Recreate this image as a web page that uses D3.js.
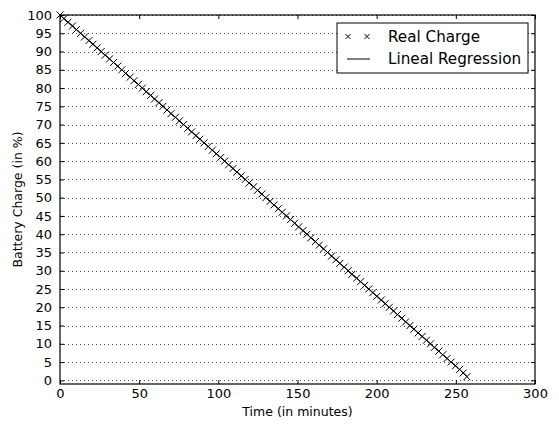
<!DOCTYPE html>
<html>
<head>
<meta charset="utf-8">
<script src="https://cdn.jsdelivr.net/npm/d3@7.9.0/dist/d3.min.js"></script>
<style>
  body { margin: 0; background: #fff; }
  svg { display: block; font-family: "DejaVu Sans", sans-serif; }
</style>
</head>
<body>
<svg id="chart" width="559" height="425"></svg>
<script>
// battery charge (%) readings, one per percent drop
const charge = d3.range(100, 0, -1);
// time in minutes at which each charge level was reached
const minutes = [
  0, 2.4, 5.0, 7.9, 10.3, 13.0, 15.5, 18.3, 20.8, 23.5,
  26.0, 28.5, 31.3, 33.8, 36.5, 39.0, 41.4, 44.3, 46.7, 49.5,
  52.0, 54.4, 57.3, 59.7, 62.5, 65.0, 67.6, 70.1, 72.9, 75.4,
  78.0, 80.7, 83.1, 85.9, 88.3, 91.0, 93.6, 96.2, 98.7, 101.5,
  104.0, 106.5, 109.3, 111.7, 114.5, 117.0, 119.4, 122.3, 124.7, 127.5,
  130.0, 132.7, 135.1, 137.9, 140.3, 143.0, 145.6, 148.2, 150.7, 153.5,
  156.0, 158.4, 161.3, 163.7, 166.5, 169.0, 171.5, 174.3, 176.7, 179.5,
  182.0, 184.3, 187.4, 189.8, 192.5, 195.0, 197.6, 200.1, 202.9, 205.4,
  208.0, 210.7, 213.1, 215.9, 218.3, 221.0, 223.5, 226.2, 228.7, 231.5,
  234.0, 236.4, 239.3, 241.7, 244.5, 247.0, 249.8, 252.4, 254.6, 257.0
];
const xTicks = [0, 50, 100, 150, 200, 250, 300];
const yTicks = d3.range(0, 101, 5);
const legendLabels = ["Real Charge", "Lineal Regression"];

const points = charge.map((c, i) => ({ t: minutes[i], c }));

// least squares fit of charge against time
const mt = d3.mean(points, d => d.t), mc = d3.mean(points, d => d.c);
const slope = d3.sum(points, d => (d.t - mt) * (d.c - mc)) / d3.sum(points, d => (d.t - mt) ** 2);
const intercept = mc - slope * mt;

const margin = { left: 60, right: 24, top: 15, bottom: 41 };
const width = 559, height = 425;
const svg = d3.select('#chart');

const x = d3.scaleLinear().domain([0, 300]).range([margin.left, width - margin.right]);
const y = d3.scaleLinear().domain([-1, 100]).range([height - margin.bottom, margin.top]);

// horizontal dotted grid
svg.append('g')
  .selectAll('line')
  .data(yTicks)
  .join('line')
  .attr('x1', x(0)).attr('x2', x(300))
  .attr('y1', d => Math.round(y(d)) + 0.5).attr('y2', d => Math.round(y(d)) + 0.5)
  .attr('stroke', '#000')
  .attr('stroke-width', 1)
  .attr('stroke-dasharray', '1,3')
  .attr('opacity', 0.7);

// regression line
const tMax = d3.max(points, d => d.t);
svg.append('line')
  .attr('x1', x(0)).attr('y1', y(intercept))
  .attr('x2', x(tMax)).attr('y2', y(intercept + slope * tMax))
  .attr('stroke', '#000')
  .attr('stroke-width', 1);

// x markers
const s = 3.5;
svg.append('g')
  .selectAll('path')
  .data(points)
  .join('path')
  .attr('d', d => {
    const px = x(d.t), py = y(d.c);
    return `M${px - s},${py - s}L${px + s},${py + s}M${px - s},${py + s}L${px + s},${py - s}`;
  })
  .attr('stroke', '#000')
  .attr('stroke-width', 1)
  .attr('fill', 'none');

// axes with inward ticks on all four sides
const tickIn = 4;
svg.append('g')
  .attr('transform', `translate(0,${y(-1)})`)
  .call(d3.axisBottom(x).tickValues(xTicks).tickSizeInner(-tickIn).tickSizeOuter(0).tickPadding(5))
  .call(g => g.select('.domain').remove());
svg.append('g')
  .attr('transform', `translate(0,${y(100)})`)
  .call(d3.axisTop(x).tickValues(xTicks).tickSizeInner(-tickIn).tickSizeOuter(0).tickFormat(''))
  .call(g => g.select('.domain').remove());
svg.append('g')
  .attr('transform', `translate(${x(0)},0)`)
  .call(d3.axisLeft(y).tickValues(yTicks).tickSizeInner(-tickIn).tickSizeOuter(0).tickPadding(8))
  .call(g => g.select('.domain').remove());
svg.append('g')
  .attr('transform', `translate(${x(300)},0)`)
  .call(d3.axisRight(y).tickValues(yTicks).tickSizeInner(-tickIn).tickSizeOuter(0).tickFormat(''))
  .call(g => g.select('.domain').remove());

svg.selectAll('.tick text')
  .attr('font-size', 13)
  .attr('font-family', '"DejaVu Sans", sans-serif')
  .attr('fill', '#000');
svg.selectAll('.tick line').attr('stroke', '#000');

// frame
svg.append('rect')
  .attr('x', x(0)).attr('y', y(100))
  .attr('width', x(300) - x(0)).attr('height', y(-1) - y(100))
  .attr('fill', 'none')
  .attr('stroke', '#000')
  .attr('stroke-width', 1.2);

// axis labels
svg.append('text')
  .attr('x', (x(0) + x(300)) / 2).attr('y', 416)
  .attr('text-anchor', 'middle')
  .attr('font-size', 12.5)
  .text('Time (in minutes)');
svg.append('text')
  .attr('transform', `translate(22,${(y(-1) + y(100)) / 2}) rotate(-90)`)
  .attr('text-anchor', 'middle')
  .attr('font-size', 12.5)
  .text('Battery Charge (in %)');

// legend
const lg = svg.append('g').attr('transform', 'translate(337,23)');
lg.append('rect')
  .attr('width', 191).attr('height', 50)
  .attr('fill', '#fff')
  .attr('stroke', '#000')
  .attr('stroke-width', 1);
[11, 30].forEach(cx => {
  const cy = 13.5, m = 2.5;
  lg.append('path')
    .attr('d', `M${cx - m},${cy - m}L${cx + m},${cy + m}M${cx - m},${cy + m}L${cx + m},${cy - m}`)
    .attr('stroke', '#000').attr('fill', 'none');
});
lg.append('line')
  .attr('x1', 10).attr('x2', 33).attr('y1', 36).attr('y2', 36)
  .attr('stroke', '#000');
lg.selectAll('text.lab')
  .data(legendLabels)
  .join('text')
  .attr('class', 'lab')
  .attr('x', 51)
  .attr('y', (d, i) => 19 + i * 22)
  .attr('font-size', 15.2)
  .text(d => d);
</script>
</body>
</html>
